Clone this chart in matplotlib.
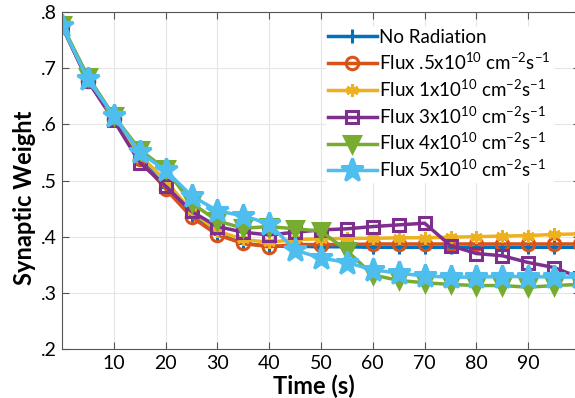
import numpy as np
import matplotlib
matplotlib.use("Agg")
import matplotlib.pyplot as plt

plt.rcParams['font.family'] = ['Lato', 'DejaVu Sans']
plt.rcParams['mathtext.default'] = 'regular'

# time axis (s)
time = [0, 5, 10, 15, 20, 25, 30, 35, 40, 45, 50, 55, 60, 65, 70, 75, 80, 85, 90, 95, 100]

no_rad = [0.775, 0.678, 0.610, 0.540, 0.488, 0.437, 0.405, 0.388, 0.383, 0.383, 0.382,
          0.382, 0.381, 0.381, 0.381, 0.381, 0.381, 0.381, 0.381, 0.381, 0.381]
flux_05 = [0.775, 0.678, 0.610, 0.538, 0.485, 0.435, 0.403, 0.388, 0.382, 0.386, 0.386,
           0.386, 0.387, 0.387, 0.387, 0.387, 0.387, 0.387, 0.387, 0.387, 0.387]
flux_1 = [0.775, 0.680, 0.612, 0.545, 0.500, 0.445, 0.410, 0.395, 0.390, 0.395, 0.396,
          0.397, 0.397, 0.398, 0.398, 0.399, 0.400, 0.401, 0.402, 0.404, 0.405]
flux_3 = [0.775, 0.677, 0.607, 0.532, 0.490, 0.445, 0.418, 0.408, 0.403, 0.408, 0.412,
          0.414, 0.418, 0.421, 0.424, 0.384, 0.370, 0.366, 0.354, 0.345, 0.327]
flux_4 = [0.777, 0.685, 0.615, 0.555, 0.520, 0.460, 0.428, 0.415, 0.418, 0.414, 0.410,
          0.375, 0.332, 0.322, 0.318, 0.315, 0.313, 0.313, 0.310, 0.313, 0.315]
flux_5 = [0.775, 0.680, 0.615, 0.550, 0.518, 0.473, 0.446, 0.437, 0.423, 0.376, 0.362,
          0.354, 0.341, 0.335, 0.330, 0.328, 0.328, 0.329, 0.329, 0.328, 0.328]

labels = ['No Radiation',
          'Flux .5x10$^{10}$ cm$^{-2}$s$^{-1}$',
          'Flux 1x10$^{10}$ cm$^{-2}$s$^{-1}$',
          'Flux 3x10$^{10}$ cm$^{-2}$s$^{-1}$',
          'Flux 4x10$^{10}$ cm$^{-2}$s$^{-1}$',
          'Flux 5x10$^{10}$ cm$^{-2}$s$^{-1}$']

series = [no_rad, flux_05, flux_1, flux_3, flux_4, flux_5]
colors = ['#0072BD', '#D95319', '#EDB120', '#7E2F8E', '#77AC30', '#4DBEEE']
markers = ['+', 'o', (6, 2, 0), 's', 'v', '*']
sizes = [10, 9, 9, 9, 11, 17]
fills = ['none', 'none', 'none', 'none', 'full', 'full']

fig = plt.figure(figsize=(5.75, 3.98), dpi=100)
ax = fig.add_axes([62 / 575, 1 - 349 / 398, 518 / 575, 337 / 398])

for y, c, m, s, f, lab in zip(series, colors, markers, sizes, fills, labels):
    face = 'none' if f == 'none' else c
    ax.plot(time, y, color=c, lw=2.5, marker=m, markersize=s,
            markerfacecolor=face, markeredgecolor=c, markeredgewidth=2.2,
            label=lab)

ax.set_xlim(0, 100)
ax.set_ylim(0.2, 0.8)
ax.set_xticks([10, 20, 30, 40, 50, 60, 70, 80, 90])
ax.set_yticks([0.2, 0.3, 0.4, 0.5, 0.6, 0.7, 0.8])
ax.set_yticklabels(['.2', '.3', '.4', '.5', '.6', '.7', '.8'])
ax.tick_params(direction='in', top=True, right=True, length=5, labelsize=14,
               color='#555555', pad=4)
ax.grid(True, color='#e6e6e6', lw=0.8)
ax.set_axisbelow(True)
for sp in ax.spines.values():
    sp.set_color('#555555')
    sp.set_linewidth(0.8)

ax.set_xlabel('Time (s)', fontsize=17, fontweight='bold')
ax.set_ylabel('Synaptic Weight', fontsize=17, fontweight='bold')
ax.xaxis.set_label_coords((314 - 62) / 518, -0.075)
ax.yaxis.set_label_coords(-0.05, (349 - 198) / 337)

leg = ax.legend(loc='upper left', bbox_to_anchor=((326 - 62) / 518, (349 - 27) / 337),
                fontsize=13.5, frameon=True, framealpha=1, edgecolor='white',
                fancybox=False, handlelength=2.6, handletextpad=0.15,
                labelspacing=0.3, borderpad=0.1, borderaxespad=0)

fig.savefig('out.png', dpi=100)
